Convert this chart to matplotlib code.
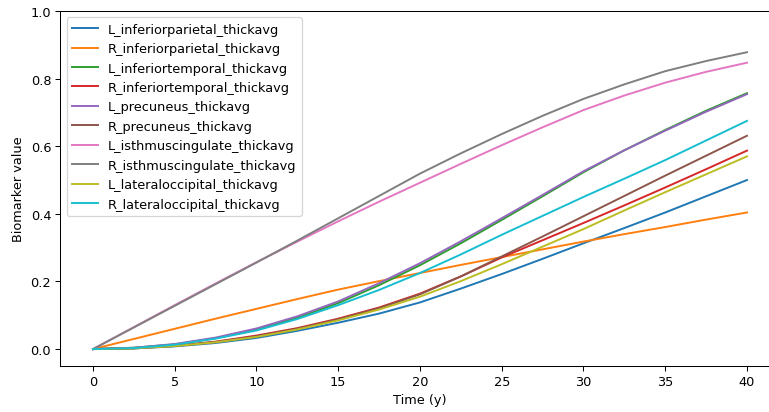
import matplotlib
matplotlib.use("Agg")
import matplotlib.pyplot as plt

time = [0, 2.5, 5, 7.5, 10, 12.5, 15, 17.5, 20, 22.5, 25, 27.5, 30, 32.5, 35, 37.5, 40]

names = [
    "L_inferiorparietal_thickavg",
    "R_inferiorparietal_thickavg",
    "L_inferiortemporal_thickavg",
    "R_inferiortemporal_thickavg",
    "L_precuneus_thickavg",
    "R_precuneus_thickavg",
    "L_isthmuscingulate_thickavg",
    "R_isthmuscingulate_thickavg",
    "L_lateraloccipital_thickavg",
    "R_lateraloccipital_thickavg",
]

L_inferiorparietal = [0, 0.002, 0.008, 0.018, 0.033, 0.054, 0.078, 0.105, 0.138, 0.179, 0.222, 0.267, 0.313, 0.358, 0.404, 0.452, 0.500]
R_inferiorparietal = [0, 0.030, 0.060, 0.090, 0.119, 0.148, 0.176, 0.201, 0.225, 0.249, 0.272, 0.295, 0.318, 0.340, 0.361, 0.383, 0.404]
L_inferiortemporal = [0, 0.004, 0.014, 0.032, 0.058, 0.093, 0.136, 0.189, 0.248, 0.313, 0.382, 0.452, 0.523, 0.588, 0.648, 0.705, 0.757]
R_inferiortemporal = [0, 0.003, 0.010, 0.022, 0.040, 0.062, 0.090, 0.123, 0.164, 0.215, 0.271, 0.322, 0.373, 0.425, 0.478, 0.532, 0.587]
L_precuneus = [0, 0.004, 0.015, 0.034, 0.061, 0.097, 0.141, 0.195, 0.254, 0.319, 0.387, 0.456, 0.526, 0.588, 0.646, 0.702, 0.754]
R_precuneus = [0, 0.002, 0.009, 0.021, 0.038, 0.060, 0.088, 0.121, 0.162, 0.215, 0.274, 0.333, 0.393, 0.453, 0.513, 0.572, 0.631]
L_isthmuscingulate = [0, 0.065, 0.130, 0.194, 0.257, 0.318, 0.378, 0.436, 0.492, 0.548, 0.603, 0.656, 0.707, 0.750, 0.788, 0.820, 0.847]
R_isthmuscingulate = [0, 0.064, 0.128, 0.192, 0.256, 0.321, 0.387, 0.453, 0.519, 0.579, 0.636, 0.690, 0.740, 0.783, 0.822, 0.852, 0.878]
L_lateraloccipital = [0, 0.002, 0.009, 0.020, 0.036, 0.058, 0.085, 0.117, 0.155, 0.201, 0.251, 0.303, 0.355, 0.410, 0.464, 0.517, 0.570]
R_lateraloccipital = [0, 0.003, 0.013, 0.031, 0.055, 0.089, 0.130, 0.175, 0.225, 0.280, 0.338, 0.394, 0.450, 0.504, 0.559, 0.617, 0.675]

series = [L_inferiorparietal, R_inferiorparietal, L_inferiortemporal, R_inferiortemporal,
          L_precuneus, R_precuneus, L_isthmuscingulate, R_isthmuscingulate,
          L_lateraloccipital, R_lateraloccipital]

DPI = 93
fig = plt.figure(figsize=(769 / DPI, 413 / DPI), dpi=DPI)
ax = fig.add_axes([0.0784, 0.1114, 0.9355, 0.8596])
for name, vals in zip(names, series):
    ax.plot(time, vals, label=name)
ax.set_xlim(-2, 42)
ax.set_ylim(-0.05, 1.0)
ax.set_xticks([0, 5, 10, 15, 20, 25, 30, 35, 40])
ax.set_yticks([0.0, 0.2, 0.4, 0.6, 0.8, 1.0])
ax.set_xlabel("Time (y)")
ax.set_ylabel("Biomarker value")
ax.legend(loc="upper left")
fig.savefig("out.png", dpi=DPI)
